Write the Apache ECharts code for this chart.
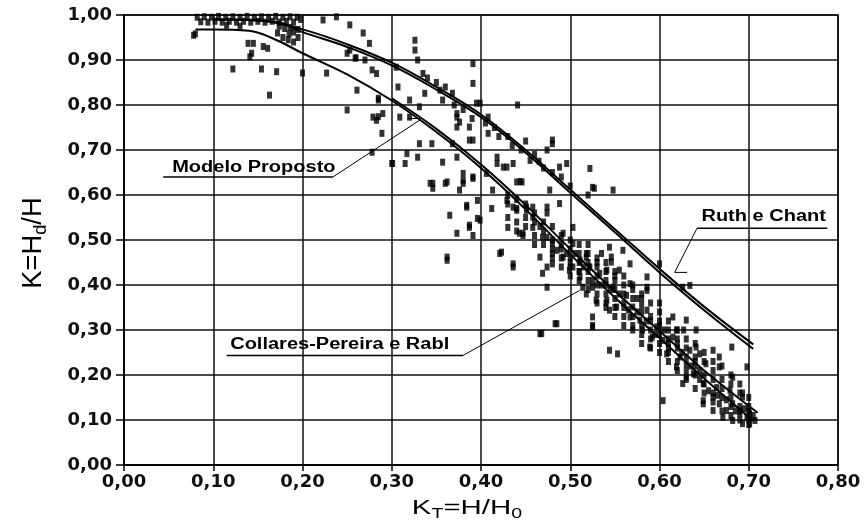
<!DOCTYPE html>
<html><head><meta charset="utf-8">
<script src="https://cdn.jsdelivr.net/npm/echarts@6/dist/echarts.min.js"></script>
<style>html,body{margin:0;padding:0;background:#fff}#c{width:865px;height:527px}</style>
</head><body><div id="c"></div>
<script>
// ---- tick labels ----
const xTickLabels = ['0,00','0,10','0,20','0,30','0,40','0,50','0,60','0,70','0,80'];
const yTickLabels = ['0,00','0,10','0,20','0,30','0,40','0,50','0,60','0,70','0,80','0,90','1,00'];

// ---- curves ----
const ruthChant = [[0.10,0.99],[0.15,0.988],[0.20,0.968],[0.25,0.935],[0.30,0.894],[0.35,0.840],[0.40,0.779],[0.45,0.700],[0.50,0.612],[0.55,0.524],[0.60,0.436],[0.65,0.352],[0.705,0.268]];
const collaresPereira = [[0.10,0.99],[0.17,0.985],[0.20,0.962],[0.25,0.929],[0.30,0.888],[0.35,0.834],[0.40,0.773],[0.45,0.694],[0.50,0.605],[0.55,0.517],[0.60,0.428],[0.65,0.344],[0.705,0.258]];
const modeloA = [[0.08,0.968],[0.10,0.968],[0.14,0.965],[0.17,0.945],[0.20,0.915],[0.25,0.868],[0.30,0.81],[0.35,0.74],[0.40,0.66],[0.45,0.568],[0.50,0.468],[0.55,0.372],[0.60,0.282],[0.65,0.192],[0.705,0.098]];
const modeloB = [[0.30,0.815],[0.35,0.747],[0.40,0.668],[0.45,0.578],[0.50,0.48],[0.55,0.386],[0.60,0.298],[0.65,0.21],[0.71,0.116]];

// ---- measured points ----
const pointsTop = [[0.082,0.995],[0.086,0.985],[0.090,0.996],[0.094,0.984],[0.098,0.995],[0.102,0.986],[0.106,0.997],[0.110,0.984],[0.114,0.995],[0.118,0.986],[0.122,0.996],[0.126,0.984],[0.130,0.995],[0.134,0.986],[0.138,0.997],[0.142,0.984],[0.146,0.995],[0.150,0.986],[0.154,0.996],[0.158,0.984],[0.162,0.995],[0.166,0.986],[0.170,0.997],[0.174,0.984],[0.178,0.995],[0.182,0.986],[0.186,0.996],[0.190,0.984],[0.194,0.995],[0.198,0.99],[0.174,0.975],[0.180,0.97],[0.186,0.972],[0.190,0.962],[0.195,0.968],[0.185,0.958],[0.080,0.958],[0.130,0.975],[0.115,0.977],[0.078,0.955],[0.172,0.96],[0.178,0.95],[0.184,0.945],[0.19,0.94],[0.195,0.95]];
const pointsLeft = [[0.145,0.937],[0.141,0.907],[0.156,0.93],[0.161,0.926],[0.143,0.915],[0.139,0.937],[0.122,0.88],[0.154,0.88],[0.171,0.874],[0.163,0.822],[0.2,0.871],[0.227,0.871],[0.261,0.833],[0.25,0.789],[0.285,0.815],[0.279,0.773],[0.223,0.989],[0.253,0.978],[0.238,0.996],[0.268,0.96],[0.275,0.937],[0.25,0.915],[0.26,0.905],[0.27,0.90],[0.253,0.922],[0.259,0.904],[0.278,0.878],[0.283,0.87],[0.285,0.811],[0.285,0.774],[0.289,0.737],[0.305,0.884],[0.307,0.84],[0.309,0.773],[0.326,0.944],[0.326,0.922],[0.329,0.90],[0.335,0.87],[0.337,0.826],[0.32,0.811],[0.331,0.796],[0.32,0.773],[0.354,0.833],[0.357,0.811],[0.368,0.826],[0.373,0.773],[0.373,0.751],[0.391,0.892],[0.391,0.848],[0.387,0.751],[0.391,0.722],[0.399,0.804],[0.408,0.773],[0.408,0.737],[0.441,0.80],[0.48,0.722],[0.474,0.70],[0.418,0.684],[0.425,0.662],[0.436,0.67],[0.455,0.677],[0.488,0.662],[0.496,0.67],[0.522,0.659],[0.278,0.695],[0.3,0.67],[0.317,0.692],[0.329,0.684],[0.345,0.714],[0.357,0.673],[0.373,0.684],[0.346,0.626],[0.362,0.629],[0.38,0.633],[0.391,0.64],[0.406,0.648],[0.44,0.629],[0.444,0.63]];
const pointsMid = [[0.283,0.766],[0.29,0.781],[0.301,0.67],[0.315,0.67],[0.331,0.714],[0.368,0.714],[0.373,0.781],[0.376,0.762],[0.387,0.722],[0.395,0.804],[0.38,0.648],[0.38,0.626],[0.391,0.637],[0.343,0.626],[0.346,0.615],[0.36,0.626],[0.376,0.611],[0.396,0.588],[0.384,0.573],[0.365,0.555],[0.387,0.528],[0.396,0.548],[0.373,0.515],[0.391,0.51],[0.412,0.57],[0.413,0.611],[0.418,0.67],[0.429,0.662],[0.446,0.629],[0.429,0.588],[0.44,0.566],[0.451,0.566],[0.458,0.573],[0.474,0.573],[0.477,0.611],[0.48,0.714],[0.458,0.528],[0.466,0.53],[0.443,0.515],[0.447,0.51],[0.421,0.47],[0.469,0.506],[0.48,0.47],[0.362,0.462],[0.387,0.533],[0.399,0.544],[0.384,0.577],[0.362,0.455],[0.423,0.473],[0.436,0.447],[0.436,0.44],[0.43,0.528],[0.447,0.515],[0.436,0.573],[0.451,0.573],[0.458,0.551],[0.466,0.462],[0.474,0.44],[0.469,0.426],[0.474,0.395],[0.466,0.292],[0.485,0.314],[0.525,0.329],[0.525,0.307],[0.48,0.492],[0.492,0.515],[0.496,0.47],[0.503,0.528],[0.503,0.44],[0.511,0.418],[0.518,0.462],[0.521,0.44],[0.525,0.395],[0.529,0.366],[0.518,0.38],[0.488,0.581],[0.474,0.56],[0.34,0.86],[0.35,0.85],[0.36,0.84],[0.37,0.80],[0.38,0.79],[0.39,0.77],[0.405,0.76],[0.415,0.75],[0.42,0.73],[0.43,0.73],[0.435,0.71],[0.445,0.70],[0.45,0.72],[0.46,0.69],[0.465,0.675],[0.47,0.66],[0.48,0.65],[0.49,0.64],[0.50,0.62],[0.52,0.60],
  [0.43,0.60],[0.43,0.58],[0.43,0.55],[0.44,0.59],[0.44,0.57],[0.44,0.54],[0.44,0.52],[0.45,0.58],[0.45,0.55],[0.45,0.53],[0.46,0.56],[0.46,0.54],[0.46,0.51],[0.46,0.49],[0.47,0.54],[0.47,0.52],[0.47,0.49],[0.48,0.53],[0.48,0.50],[0.48,0.48],[0.48,0.46],[0.49,0.51],[0.49,0.49],[0.49,0.46],[0.49,0.44]];
const pointsRight = [[0.474,0.506],[0.485,0.477],[0.492,0.462],[0.48,0.447],[0.499,0.433],[0.503,0.492],[0.511,0.455],[0.518,0.47],[0.522,0.44],[0.525,0.41],[0.514,0.395],[0.533,0.426],[0.541,0.433],[0.544,0.484],[0.546,0.462],[0.555,0.433],[0.548,0.395],[0.541,0.366],[0.544,0.344],[0.552,0.351],[0.567,0.403],[0.563,0.377],[0.57,0.351],[0.567,0.329],[0.578,0.322],[0.586,0.388],[0.586,0.344],[0.581,0.3],[0.592,0.284],[0.589,0.262],[0.597,0.307],[0.604,0.277],[0.608,0.247],[0.615,0.329],[0.619,0.3],[0.615,0.284],[0.623,0.24],[0.619,0.218],[0.63,0.225],[0.634,0.255],[0.641,0.262],[0.63,0.195],[0.638,0.203],[0.645,0.21],[0.649,0.181],[0.652,0.225],[0.649,0.136],[0.66,0.151],[0.667,0.136],[0.664,0.172],[0.675,0.121],[0.682,0.136],[0.69,0.114],[0.698,0.106],[0.701,0.092],[0.693,0.151],[0.698,0.218],[0.682,0.195],[0.667,0.218],[0.66,0.255],[0.667,0.24],[0.681,0.262],[0.641,0.3],[0.627,0.3],[0.63,0.322],[0.634,0.399],[0.544,0.255],[0.553,0.247],[0.604,0.143],[0.483,0.314],[0.525,0.31],[0.468,0.292],[0.567,0.447],[0.559,0.477],[0.586,0.418],[0.527,0.615],[0.548,0.611],[0.525,0.617],[0.546,0.451],[0.586,0.395],[0.6,0.447],[0.626,0.395],[0.645,0.247],[0.626,0.181],[0.649,0.143],[0.66,0.121],[0.671,0.106],[0.682,0.099],[0.693,0.092],[0.701,0.114],[0.707,0.099],[0.679,0.166],[0.693,0.16],[0.505,0.47],[0.51,0.43],[0.515,0.44],[0.53,0.45],[0.535,0.40],[0.54,0.41],[0.55,0.42],[0.555,0.38],[0.56,0.36],[0.56,0.40],[0.565,0.345],[0.575,0.37],[0.575,0.34],[0.58,0.355],[0.585,0.32],[0.59,0.33],[0.595,0.29],[0.60,0.31],[0.605,0.30],[0.61,0.27],[0.61,0.26],[0.62,0.27],[0.625,0.25],[0.63,0.24],[0.635,0.22],[0.64,0.23],[0.645,0.19],[0.65,0.20],[0.655,0.165],[0.66,0.19],[0.665,0.155],[0.67,0.17],[0.675,0.145],[0.68,0.15],[0.685,0.12],[0.69,0.13],[0.695,0.125],[0.70,0.13],[0.705,0.11],[0.535,0.47],[0.52,0.49],[0.50,0.45],[0.49,0.48],[0.545,0.39],[0.57,0.39],[0.58,0.38],[0.60,0.36]];
const pointsCluster = [[0.50,0.50],[0.50,0.48],[0.50,0.46],[0.50,0.44],[0.50,0.42],[0.51,0.49],[0.51,0.47],[0.51,0.45],[0.51,0.43],[0.51,0.41],[0.52,0.47],[0.52,0.45],[0.52,0.43],[0.52,0.41],[0.52,0.39],[0.53,0.46],[0.53,0.44],[0.53,0.42],[0.53,0.40],[0.53,0.38],[0.53,0.36],[0.54,0.45],[0.54,0.43],[0.54,0.40],[0.54,0.38],[0.54,0.36],[0.54,0.35],[0.55,0.43],[0.55,0.41],[0.55,0.39],[0.55,0.37],[0.55,0.35],[0.55,0.33],[0.56,0.42],[0.56,0.38],[0.56,0.35],[0.56,0.33],[0.56,0.31],[0.57,0.40],[0.57,0.37],[0.57,0.33],[0.57,0.31],[0.57,0.30],[0.58,0.37],[0.58,0.34],[0.58,0.31],[0.58,0.29],[0.58,0.27],[0.59,0.36],[0.59,0.32],[0.59,0.30],[0.59,0.28],[0.59,0.26],[0.60,0.34],[0.60,0.32],[0.60,0.29],[0.60,0.27],[0.60,0.25],[0.61,0.32],[0.61,0.30],[0.61,0.28],[0.61,0.25],[0.61,0.23],[0.62,0.30],[0.62,0.28],[0.62,0.26],[0.62,0.23],[0.62,0.21],[0.63,0.28],[0.63,0.26],[0.63,0.21],[0.63,0.19],[0.64,0.27],[0.64,0.24],[0.64,0.22],[0.64,0.20],[0.64,0.17],[0.65,0.25],[0.65,0.23],[0.65,0.18],[0.65,0.16],[0.66,0.23],[0.66,0.21],[0.66,0.16],[0.66,0.14],[0.67,0.22],[0.67,0.19],[0.67,0.15],[0.67,0.12],[0.68,0.20],[0.68,0.18],[0.68,0.13],[0.68,0.11],[0.69,0.18],[0.69,0.16],[0.69,0.12],[0.69,0.10],[0.70,0.15],[0.70,0.12],[0.70,0.10],[0.70,0.09]];

// ---- annotation anchors, in data units ----
const annotations = [
  {text:'Modelo Proposto', textAt:[0.054,0.661], line:[[0.044,0.640],[0.234,0.640],[0.3315,0.7665]], tick:[[0.318,0.770],[0.3315,0.770]]},
  {text:'Ruth e Chant', textAt:[0.647,0.551], line:[[0.788,0.526],[0.642,0.526],[0.617,0.428]], tick:[[0.617,0.428],[0.631,0.428]]},
  {text:'Collares-Pereira e Rabl', textAt:[0.119,0.268], line:[[0.115,0.2436],[0.380,0.2436],[0.5106,0.388]], tick:null}
];

const chart = echarts.init(document.getElementById('c'), null, {renderer:'canvas'});
const black = '#000';
const lineSeries = (data) => ({type:'line', data, smooth:0.4, symbol:'none', lineStyle:{color:black, width:2}, z:3, silent:true});
const labelFont = {fontFamily:'DejaVu Sans', fontWeight:'bold', fontSize:18, color:'#111'};

chart.setOption({
  animation:false,
  backgroundColor:'#fff',
  grid:{left:124, right:27, top:15, bottom:62, show:true, borderColor:black, borderWidth:1.5},
  xAxis:{type:'value', min:0, max:0.8, interval:0.1,
    axisLine:{lineStyle:{color:black, width:1.5}},
    axisTick:{show:true, length:6, lineStyle:{color:black, width:1.5}},
    splitLine:{lineStyle:{color:'#111', width:1.5}},
    axisLabel:Object.assign({margin:8, formatter:(v)=>xTickLabels[Math.round(v*10)]}, labelFont)},
  yAxis:{type:'value', min:0, max:1, interval:0.1,
    axisLine:{lineStyle:{color:black, width:1.5}},
    axisTick:{show:true, length:8, lineStyle:{color:black, width:1.5}},
    splitLine:{lineStyle:{color:'#111', width:1.5}},
    axisLabel:Object.assign({margin:12, formatter:(v)=>yTickLabels[Math.round(v*10)]}, labelFont)},
  series:[
    {type:'scatter', data:[].concat(pointsTop, pointsLeft, pointsMid, pointsRight, pointsCluster), symbol:'rect', symbolSize:[5,7], itemStyle:{color:black}, z:2, silent:true},
    lineSeries(ruthChant),
    lineSeries(collaresPereira),
    lineSeries(modeloA),
    lineSeries(modeloB)
  ]
});

const px = (p) => chart.convertToPixel({gridIndex:0}, p);
const graphics = [];
annotations.forEach((a) => {
  const t = px(a.textAt);
  graphics.push({type:'text', x:t[0], y:t[1], scaleX:1.25, z:10,
    style:{text:a.text, x:0, y:0, align:'left', verticalAlign:'middle', font:'bold 16px "Liberation Sans"', fill:black}});
  const pts = a.line.map(px);
  graphics.push({type:'polyline', z:10, shape:{points:pts.slice(0,2)}, style:{stroke:black, lineWidth:1.5, fill:null}});
  graphics.push({type:'polyline', z:10, shape:{points:pts.slice(1)}, style:{stroke:black, lineWidth:1, fill:null}});
  if (a.tick) graphics.push({type:'polyline', z:10, shape:{points:a.tick.map(px)}, style:{stroke:black, lineWidth:1, fill:null}});
});
// axis names
graphics.push({type:'text', x:467, y:508, scaleX:1.4, z:10,
  style:{text:'{m|K}{s|T}{m|=H/H}{s|0}', x:0, y:0, align:'center', verticalAlign:'middle', fill:black,
    rich:{m:{fontSize:21, fontFamily:'Liberation Sans', fill:black}, s:{fontSize:14, fontFamily:'Liberation Sans', padding:[12,0,0,0], fill:black}}}});
graphics.push({type:'text', x:33, y:243, rotation:Math.PI/2, scaleX:1.3, scaleY:1.3, z:10,
  style:{text:'{m|K=H}{s|d}{m|/H}', x:0, y:0, align:'center', verticalAlign:'middle', fill:black,
    rich:{m:{fontSize:21, fontFamily:'Liberation Sans', fill:black}, s:{fontSize:14, fontFamily:'Liberation Sans', padding:[12,0,0,0], fill:black}}}});
chart.setOption({graphic:graphics});
</script></body></html>
